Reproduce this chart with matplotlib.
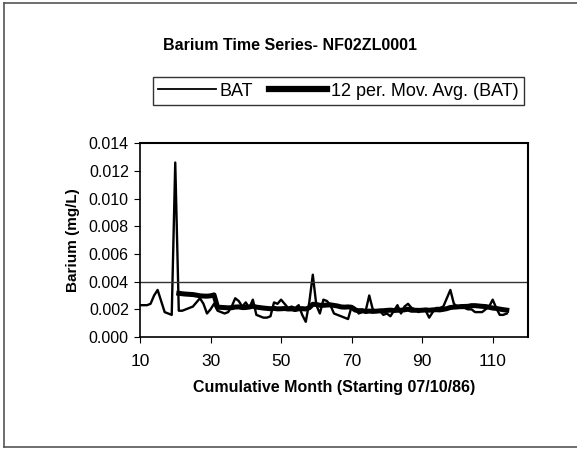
#!/usr/bin/env python3
import matplotlib
matplotlib.use("Agg")
import matplotlib.pyplot as plt
from matplotlib.lines import Line2D
import numpy as np
import pandas as pd

# cumulative month (starting 07/10/86) and barium concentration (mg/L)
months = list(range(10, 115))
bat = [
    0.0023, 0.0023, 0.0023, 0.0024, 0.0030, 0.0034, 0.0026, 0.0018, 0.0017, 0.0016,  # 10-19
    0.0126, 0.0019, 0.0019, 0.0020, 0.0021, 0.0022, 0.0025, 0.0028, 0.0024, 0.0017,  # 20-29
    0.0020, 0.0024, 0.0019, 0.0018, 0.0017, 0.0018, 0.0022, 0.0028, 0.0026, 0.0022,  # 30-39
    0.0025, 0.0021, 0.0027, 0.0016, 0.0015, 0.0014, 0.0014, 0.0015, 0.0025, 0.0024,  # 40-49
    0.0027, 0.0024, 0.0021, 0.0022, 0.0021, 0.0023, 0.0016, 0.0011, 0.0025, 0.0045,  # 50-59
    0.0023, 0.0017, 0.0027, 0.0026, 0.0023, 0.0017, 0.0016, 0.0015, 0.0014, 0.0013,  # 60-69
    0.0022, 0.0021, 0.0017, 0.0018, 0.0019, 0.0030, 0.0020, 0.0019, 0.0019, 0.0016,  # 70-79
    0.0017, 0.0015, 0.0019, 0.0023, 0.0017, 0.0022, 0.0024, 0.0021, 0.0020, 0.0018,  # 80-89
    0.0020, 0.0019, 0.0014, 0.0018, 0.0021, 0.0021, 0.0022, 0.0028, 0.0034, 0.0024,  # 90-99
    0.0022, 0.0021, 0.0021, 0.0020, 0.0020, 0.0018, 0.0018, 0.0018, 0.0020, 0.0022,  # 100-109
    0.0027, 0.0021, 0.0016, 0.0016, 0.0017,  # 110-114
]
ref_level = 0.004
ma_window = 12

x_ticks = [10, 30, 50, 70, 90, 110]
y_ticks = [0.000, 0.002, 0.004, 0.006, 0.008, 0.010, 0.012, 0.014]

df = pd.DataFrame({"month": months, "bat": bat})
df["ma"] = df["bat"].rolling(ma_window).mean()

plt.rcParams["font.family"] = ["Liberation Sans", "DejaVu Sans"]

fig = plt.figure(figsize=(5.77, 4.53), dpi=100)
ax = fig.add_axes([0.2426, 0.256, 0.6724, 0.428])

ax.plot(df["month"], df["bat"], color="black", lw=1.7)
ax.plot(df["month"], df["ma"], color="black", lw=3.6)
ax.axhline(ref_level, color="#333333", lw=1.0)

ax.set_xlim(10, 120)
ax.set_ylim(0, 0.014)
ax.set_xticks(x_ticks)
ax.set_yticks(y_ticks)
ax.set_yticklabels([f"{v:.3f}" for v in y_ticks])
ax.tick_params(axis="y", labelsize=11.5, direction="out", length=4, pad=4)
ax.tick_params(axis="x", labelsize=12.5, direction="out", length=4, pad=8)

for name in ["top", "right"]:
    ax.spines[name].set_linestyle((0, (1, 1)))
    ax.spines[name].set_linewidth(1.5)
for name in ["left", "bottom"]:
    ax.spines[name].set_linewidth(1.2)

ax.set_ylabel("Barium (mg/L)", fontsize=11, fontweight="bold", labelpad=6)
ax.set_xlabel("Cumulative Month (Starting 07/10/86)", fontsize=11.5, fontweight="bold", labelpad=8)

fig.text(0.503, 0.9, "Barium Time Series- NF02ZL0001", ha="center", va="center",
         fontsize=11.5, fontweight="bold")

handles = [
    Line2D([], [], color="black", lw=1.3),
    Line2D([], [], color="black", lw=4.5),
]
leg = fig.legend(handles, ["BAT", "12 per. Mov. Avg. (BAT)"], loc="center",
                 bbox_to_anchor=(0.586, 0.799), ncol=2, fontsize=13, frameon=True,
                 fancybox=False, edgecolor="black", handlelength=3.2, handletextpad=0.2,
                 columnspacing=0.9, borderpad=0.3)
leg.get_frame().set_linewidth(1.0)

# outer chart border
fig.add_artist(Line2D([4 / 577, 4 / 577], [1 - 3 / 453, 1 - 447 / 453], color="#555555", lw=1.2,
                      transform=fig.transFigure))
fig.add_artist(Line2D([4 / 577, 1], [1 - 3 / 453, 1 - 3 / 453], color="#555555", lw=1.2,
                      transform=fig.transFigure))
fig.add_artist(Line2D([4 / 577, 1], [1 - 447 / 453, 1 - 447 / 453], color="#555555", lw=1.2,
                      transform=fig.transFigure))

fig.savefig("out.png", dpi=100)
